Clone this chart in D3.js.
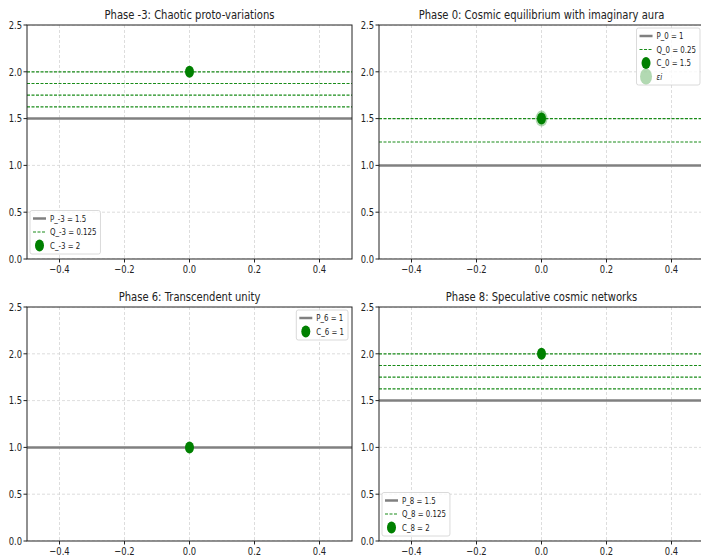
<!DOCTYPE html>
<html>
<head>
<meta charset="utf-8">
<script src="https://d3js.org/d3.v7.min.js"></script>
<style>
  body { margin: 0; background: #fff; }
  text { font-family: "DejaVu Sans", sans-serif; fill: #222; }
</style>
</head>
<body>
<script>
// chart data
const titles = [
  "Phase -3: Chaotic proto-variations",
  "Phase 0: Cosmic equilibrium with imaginary aura",
  "Phase 6: Transcendent unity",
  "Phase 8: Speculative cosmic networks"
];
const phaseNames = ["-3", "0", "6", "8"];
const pValues = [1.5, 1, 1, 1.5];
const qValues = [0.125, 0.25, null, 0.125];
const cValues = [2, 1.5, 1, 2];
const qLevels = [
  [1.625, 1.75, 1.875, 2.0],
  [1.25, 1.5],
  [],
  [1.625, 1.75, 1.875, 2.0]
];
const hasAura = [false, true, false, false];
const legendPos = ["lower left", "upper right", "upper right", "lower left"];
const xTicks = [-0.4, -0.2, 0.0, 0.2, 0.4];
const yTicks = [0.0, 0.5, 1.0, 1.5, 2.0, 2.5];

const width = 701, height = 559;
const green = "#008000";

const svg = d3.select("body").append("svg")
  .attr("width", width).attr("height", height);

// axes boxes
const cols = [[27, 352], [379, 704]];
const rows = [[25, 259], [307, 541]];

// the picture is squeezed sideways, so text and dots are too
function txt(g, x, y, s, size, anchor, sx) {
  return g.append("text")
    .attr("transform", `translate(${x},${y}) scale(${sx},1)`)
    .attr("text-anchor", anchor)
    .style("font-size", size + "px")
    .text(s);
}

titles.forEach((title, i) => {
  const [x0, x1] = cols[i % 2];
  const [y0, y1] = rows[Math.floor(i / 2)];
  const x = d3.scaleLinear().domain([-0.5, 0.5]).range([x0, x1]);
  const y = d3.scaleLinear().domain([0, 2.5]).range([y1, y0]);
  const g = svg.append("g");

  g.append("clipPath").attr("id", "clip" + i)
    .append("rect").attr("x", x0).attr("y", y0)
    .attr("width", x1 - x0).attr("height", y1 - y0);

  const plot = g.append("g").attr("clip-path", `url(#clip${i})`);

  // grid
  plot.selectAll(".gx").data(xTicks).join("line")
    .attr("x1", d => x(d)).attr("x2", d => x(d))
    .attr("y1", y0).attr("y2", y1)
    .attr("stroke", "#d4d4d4").attr("stroke-width", 0.8)
    .attr("stroke-dasharray", "3,2");
  plot.selectAll(".gy").data(yTicks).join("line")
    .attr("x1", x0).attr("x2", x1)
    .attr("y1", d => y(d)).attr("y2", d => y(d))
    .attr("stroke", "#d4d4d4").attr("stroke-width", 0.8)
    .attr("stroke-dasharray", "3,2");

  // P line
  plot.append("line")
    .attr("x1", x0).attr("x2", x1)
    .attr("y1", y(pValues[i])).attr("y2", y(pValues[i]))
    .attr("stroke", "#808080").attr("stroke-width", 2.5);

  // Q lines
  plot.selectAll(".q").data(qLevels[i]).join("line")
    .attr("x1", x0).attr("x2", x1)
    .attr("y1", d => y(d)).attr("y2", d => y(d))
    .attr("stroke", "#1a8c1a").attr("stroke-width", 1.2)
    .attr("stroke-dasharray", "3,1.5");

  // C dot
  if (hasAura[i]) {
    plot.append("ellipse")
      .attr("cx", x(0)).attr("cy", y(cValues[i]))
      .attr("rx", 6).attr("ry", 8)
      .attr("fill", green).attr("opacity", 0.3);
  }
  plot.append("ellipse")
    .attr("cx", x(0)).attr("cy", y(cValues[i]))
    .attr("rx", 4.5).attr("ry", 6)
    .attr("fill", green);

  // spines
  g.append("rect").attr("x", x0).attr("y", y0)
    .attr("width", x1 - x0).attr("height", y1 - y0)
    .attr("fill", "none").attr("stroke", "#222").attr("stroke-width", 1);

  // ticks
  xTicks.forEach(t => {
    g.append("line").attr("x1", x(t)).attr("x2", x(t))
      .attr("y1", y1).attr("y2", y1 + 3.5).attr("stroke", "#222");
    txt(g, x(t), y1 + 14, d3.format(".1f")(t).replace("-", "\u2212"), 10.5, "middle", 0.8);
  });
  yTicks.forEach(t => {
    g.append("line").attr("x1", x0).attr("x2", x0 - 3.5)
      .attr("y1", y(t)).attr("y2", y(t)).attr("stroke", "#222");
    txt(g, x0 - 5, y(t) + 3.8, d3.format(".1f")(t), 10.5, "end", 0.8);
  });

  // title
  txt(g, (x0 + x1) / 2, y0 - 6, title, 13, "middle", 0.77);

  // legend
  const n = phaseNames[i];
  const items = [{ kind: "p", label: `P_${n} = ${pValues[i]}` }];
  if (qValues[i] !== null) items.push({ kind: "q", label: `Q_${n} = ${qValues[i]}` });
  items.push({ kind: "c", label: `C_${n} = ${cValues[i]}` });
  if (hasAura[i]) items.push({ kind: "a", label: "\u03b5i" });

  const rowH = 13.5;
  const lg = g.append("g");
  const box = lg.append("rect").attr("rx", 2)
    .attr("fill", "white").attr("fill-opacity", 0.8)
    .attr("stroke", "#d0d0d0").attr("stroke-width", 0.8);
  let maxW = 0;
  items.forEach((it, k) => {
    const t = txt(lg, 20, 8 + k * rowH + 3.4, it.label, 9.5, "start", 0.74);
    if (it.kind === "a") t.style("font-style", "italic");
    maxW = Math.max(maxW, t.node().getComputedTextLength() * 0.74);
  });
  items.forEach((it, k) => {
    const cy = 8 + k * rowH;
    if (it.kind === "p") {
      lg.append("line").attr("x1", 3).attr("x2", 16).attr("y1", cy).attr("y2", cy)
        .attr("stroke", "#808080").attr("stroke-width", 2.5);
    } else if (it.kind === "q") {
      lg.append("line").attr("x1", 3).attr("x2", 16).attr("y1", cy).attr("y2", cy)
        .attr("stroke", "#1a8c1a").attr("stroke-width", 1.2).attr("stroke-dasharray", "3,1.5");
    } else if (it.kind === "c") {
      lg.append("ellipse").attr("cx", 9.5).attr("cy", cy).attr("rx", 4.5).attr("ry", 6)
        .attr("fill", green);
    } else {
      lg.append("ellipse").attr("cx", 9.5).attr("cy", cy).attr("rx", 6).attr("ry", 8)
        .attr("fill", green).attr("opacity", 0.3);
    }
  });
  const bw = 20 + maxW + 4;
  const bh = items.length * rowH + 3;
  box.attr("width", bw).attr("height", bh);
  let lx, ly;
  if (legendPos[i] === "lower left") { lx = x0 + 3; ly = y1 - 5 - bh; }
  else { lx = x1 - 4 - bw; ly = y0 + 3; }
  lg.attr("transform", `translate(${lx},${ly})`);
});
</script>
</body>
</html>
